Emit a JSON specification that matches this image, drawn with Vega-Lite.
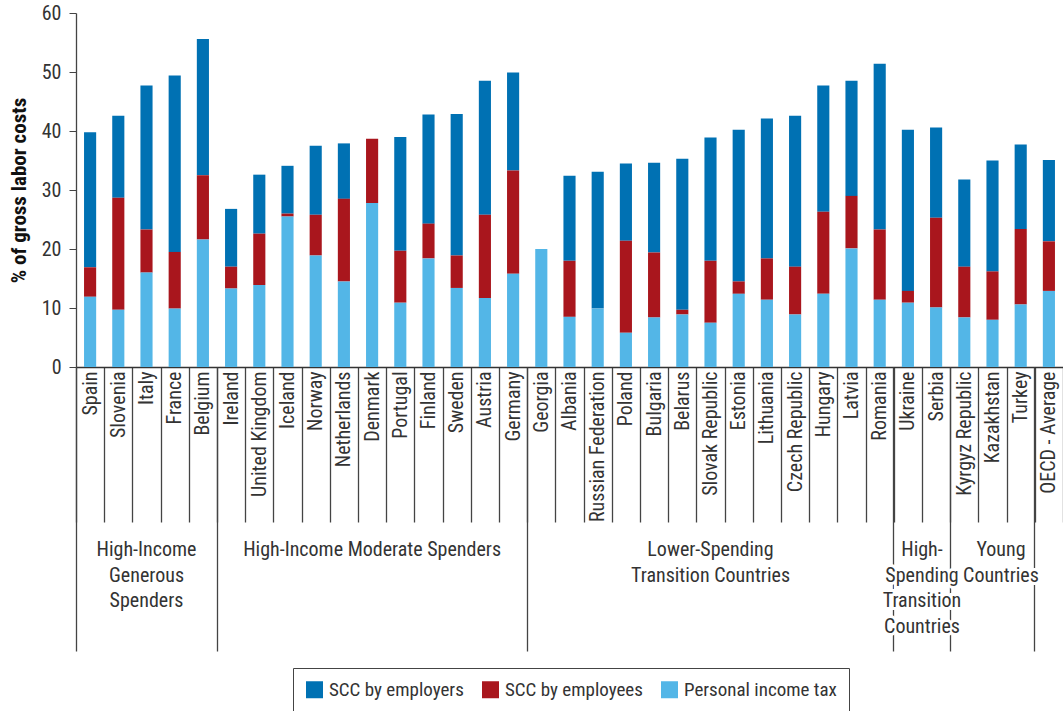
{
  "$schema": "https://vega.github.io/schema/vega-lite/v6.json",
  "width": 987,
  "height": 354,
  "padding": {"left": 8, "top": 3, "right": 3, "bottom": 0},
  "background": "white",
  "config": {
    "view": {"stroke": null},
    "font": "Liberation Sans Narrow, Roboto Condensed, DejaVu Sans Condensed, Arial",
    "axis": {"labelFont": "Liberation Sans Narrow, Roboto Condensed, DejaVu Sans Condensed, Arial", "titleFont": "Liberation Sans Narrow, Roboto Condensed, DejaVu Sans Condensed, Arial"},
    "legend": {"labelFont": "Liberation Sans Narrow, Roboto Condensed, DejaVu Sans Condensed, Arial"}
  },
  "datasets": {
    "main": [
      {"country": "Spain", "Personal income tax": 11.9, "SCC by employees": 5.0, "SCC by employers": 22.9},
      {"country": "Slovenia", "Personal income tax": 9.7, "SCC by employees": 19.0, "SCC by employers": 13.9},
      {"country": "Italy", "Personal income tax": 16.0, "SCC by employees": 7.3, "SCC by employers": 24.4},
      {"country": "France", "Personal income tax": 9.9, "SCC by employees": 9.6, "SCC by employers": 29.9},
      {"country": "Belgium", "Personal income tax": 21.6, "SCC by employees": 10.9, "SCC by employers": 23.1},
      {"country": "Ireland", "Personal income tax": 13.3, "SCC by employees": 3.7, "SCC by employers": 9.8},
      {"country": "United Kingdom", "Personal income tax": 13.9, "SCC by employees": 8.7, "SCC by employers": 10.0},
      {"country": "Iceland", "Personal income tax": 25.5, "SCC by employees": 0.5, "SCC by employers": 8.1},
      {"country": "Norway", "Personal income tax": 18.9, "SCC by employees": 6.9, "SCC by employers": 11.7},
      {"country": "Netherlands", "Personal income tax": 14.5, "SCC by employees": 14.0, "SCC by employers": 9.4},
      {"country": "Denmark", "Personal income tax": 27.8, "SCC by employees": 10.9, "SCC by employers": 0},
      {"country": "Portugal", "Personal income tax": 10.9, "SCC by employees": 8.8, "SCC by employers": 19.3},
      {"country": "Finland", "Personal income tax": 18.4, "SCC by employees": 5.9, "SCC by employers": 18.5},
      {"country": "Sweden", "Personal income tax": 13.4, "SCC by employees": 5.5, "SCC by employers": 24.0},
      {"country": "Austria", "Personal income tax": 11.7, "SCC by employees": 14.1, "SCC by employers": 22.7},
      {"country": "Germany", "Personal income tax": 15.8, "SCC by employees": 17.5, "SCC by employers": 16.6},
      {"country": "Georgia", "Personal income tax": 20.0, "SCC by employees": 0, "SCC by employers": 0},
      {"country": "Albania", "Personal income tax": 8.5, "SCC by employees": 9.5, "SCC by employers": 14.4},
      {"country": "Russian Federation", "Personal income tax": 9.9, "SCC by employees": 0, "SCC by employers": 23.2},
      {"country": "Poland", "Personal income tax": 5.8, "SCC by employees": 15.6, "SCC by employers": 13.1},
      {"country": "Bulgaria", "Personal income tax": 8.4, "SCC by employees": 11.0, "SCC by employers": 15.2},
      {"country": "Belarus", "Personal income tax": 8.9, "SCC by employees": 0.8, "SCC by employers": 25.6},
      {"country": "Slovak Republic", "Personal income tax": 7.5, "SCC by employees": 10.5, "SCC by employers": 20.9},
      {"country": "Estonia", "Personal income tax": 12.4, "SCC by employees": 2.1, "SCC by employers": 25.7},
      {"country": "Lithuania", "Personal income tax": 11.4, "SCC by employees": 7.0, "SCC by employers": 23.7},
      {"country": "Czech Republic", "Personal income tax": 8.9, "SCC by employees": 8.1, "SCC by employers": 25.6},
      {"country": "Hungary", "Personal income tax": 12.4, "SCC by employees": 13.9, "SCC by employers": 21.4},
      {"country": "Latvia", "Personal income tax": 20.1, "SCC by employees": 8.9, "SCC by employers": 19.5},
      {"country": "Romania", "Personal income tax": 11.4, "SCC by employees": 11.9, "SCC by employers": 28.1},
      {"country": "Ukraine", "Personal income tax": 10.9, "SCC by employees": 2.0, "SCC by employers": 27.3},
      {"country": "Serbia", "Personal income tax": 10.1, "SCC by employees": 15.2, "SCC by employers": 15.3},
      {"country": "Kyrgyz Republic", "Personal income tax": 8.4, "SCC by employees": 8.6, "SCC by employers": 14.8},
      {"country": "Kazakhstan", "Personal income tax": 8.0, "SCC by employees": 8.2, "SCC by employers": 18.8},
      {"country": "Turkey", "Personal income tax": 10.6, "SCC by employees": 12.8, "SCC by employers": 14.3},
      {"country": "OECD - Average", "Personal income tax": 12.9, "SCC by employees": 8.4, "SCC by employers": 13.8}
    ],
    "groupsCenter": [
      {"group": "High-Income\nGenerous\nSpenders", "anchor": "Italy"},
      {"group": "High-Income Moderate Spenders", "anchor": "Denmark"},
      {"group": "Lower-Spending\nTransition Countries", "anchor": "Slovak Republic"}
    ],
    "groupsEdge": [
      {"group": "High-\nSpending\nTransition\nCountries", "anchor": "Serbia"}
    ],
    "groupsYoung": [
      {"group": "Young\nCountries", "anchor": "Kazakhstan"}
    ]
  },
  "resolve": {"scale": {"x": "shared"}, "axis": {"x": "independent"}},
  "layer": [
    {
      "data": {"name": "main"},
      "transform": [{"fold": ["SCC by employers", "SCC by employees", "Personal income tax"], "as": ["component", "value"]}],
      "mark": {"type": "bar", "width": {"band": 0.43}},
      "encoding": {
        "x": {
          "field": "country", "type": "nominal", "sort": null,
          "scale": {"domain": ["Spain","Slovenia","Italy","France","Belgium","Ireland","United Kingdom","Iceland","Norway","Netherlands","Denmark","Portugal","Finland","Sweden","Austria","Germany","Georgia","Albania","Russian Federation","Poland","Bulgaria","Belarus","Slovak Republic","Estonia","Lithuania","Czech Republic","Hungary","Latvia","Romania","Ukraine","Serbia","Kyrgyz Republic","Kazakhstan","Turkey","OECD - Average"], "paddingInner": 0, "paddingOuter": 0},
          "axis": {"orient": "bottom", "title": null, "labelAngle": -90, "labelAlign": "right", "labelBaseline": "middle", "labelFontSize": 20, "labelColor": "#333", "labelPadding": -151, "labelOverlap": false, "labelLimit": 400, "tickBand": "extent", "tickSize": 155, "tickColor": "#444", "tickWidth": 1.3, "domainColor": "#333", "domainWidth": 1.5, "grid": false}
        },
        "y": {
          "field": "value", "type": "quantitative", "stack": "zero",
          "scale": {"domain": [0, 60], "nice": false},
          "axis": {"title": "% of gross labor costs", "titleFontSize": 21, "titleFontWeight": "bold", "titleColor": "#111", "titlePadding": 12, "values": [0, 10, 20, 30, 40, 50, 60], "labelFontSize": 20, "labelColor": "#333", "labelPadding": 8, "tickSize": 7, "tickColor": "#444", "domainColor": "#444", "domainWidth": 1.3, "grid": false}
        },
        "color": {
          "field": "component", "type": "nominal",
          "scale": {"domain": ["SCC by employers", "SCC by employees", "Personal income tax"], "range": ["#0071B3", "#A9161D", "#53B6E7"]},
          "legend": {"orient": "none", "legendX": 217, "legendY": 655, "direction": "horizontal", "title": null, "symbolType": "square", "symbolSize": 289, "symbolStrokeWidth": 0, "labelFontSize": 19, "labelLimit": 400, "labelColor": "#333", "strokeColor": "#444", "padding": 12, "columnPadding": 17, "labelOffset": 5}
        },
        "order": {"field": "component", "sort": "ascending"}
      }
    },
    {
      "data": {"name": "groupsCenter"},
      "mark": {"type": "text", "lineBreak": "\n", "align": "center", "baseline": "alphabetic", "dy": 189, "lineHeight": 25.5, "fontSize": 20, "stroke": "white", "strokeWidth": 6, "fill": "white"},
      "encoding": {
        "x": {"field": "anchor", "type": "nominal", "bandPosition": 0.5,
          "axis": {"orient": "bottom", "title": null, "values": ["Spain", "Ireland", "Georgia", "Ukraine", "Kyrgyz Republic", "OECD - Average"], "bandPosition": 0, "tickSize": 284, "tickColor": "#444", "tickWidth": 1.3, "labels": false, "domain": false, "grid": false}},
        "y": {"value": "height"},
        "text": {"field": "group"}
      }
    },
    {
      "data": {"name": "groupsEdge"},
      "mark": {"type": "text", "lineBreak": "\n", "align": "center", "baseline": "alphabetic", "dy": 189, "lineHeight": 25.5, "fontSize": 20, "stroke": "white", "strokeWidth": 6, "fill": "white"},
      "encoding": {
        "x": {"field": "anchor", "type": "nominal", "bandPosition": 0, "axis": null},
        "y": {"value": "height"},
        "text": {"field": "group"}
      }
    },
    {
      "data": {"name": "groupsYoung"},
      "mark": {"type": "text", "lineBreak": "\n", "align": "center", "baseline": "alphabetic", "dy": 189, "lineHeight": 25.5, "fontSize": 20, "stroke": "white", "strokeWidth": 6, "fill": "white"},
      "encoding": {
        "x": {"field": "anchor", "type": "nominal", "bandPosition": 0.8, "axis": null},
        "y": {"value": "height"},
        "text": {"field": "group"}
      }
    },
    {
      "data": {"name": "groupsCenter"},
      "mark": {"type": "text", "lineBreak": "\n", "align": "center", "baseline": "alphabetic", "dy": 189, "lineHeight": 25.5, "fontSize": 20, "fill": "#333"},
      "encoding": {
        "x": {"field": "anchor", "type": "nominal", "bandPosition": 0.5, "axis": null},
        "y": {"value": "height"},
        "text": {"field": "group"}
      }
    },
    {
      "data": {"name": "groupsEdge"},
      "mark": {"type": "text", "lineBreak": "\n", "align": "center", "baseline": "alphabetic", "dy": 189, "lineHeight": 25.5, "fontSize": 20, "fill": "#333"},
      "encoding": {
        "x": {"field": "anchor", "type": "nominal", "bandPosition": 0, "axis": null},
        "y": {"value": "height"},
        "text": {"field": "group"}
      }
    },
    {
      "data": {"name": "groupsYoung"},
      "mark": {"type": "text", "lineBreak": "\n", "align": "center", "baseline": "alphabetic", "dy": 189, "lineHeight": 25.5, "fontSize": 20, "fill": "#333"},
      "encoding": {
        "x": {"field": "anchor", "type": "nominal", "bandPosition": 0.8, "axis": null},
        "y": {"value": "height"},
        "text": {"field": "group"}
      }
    }
  ]
}
